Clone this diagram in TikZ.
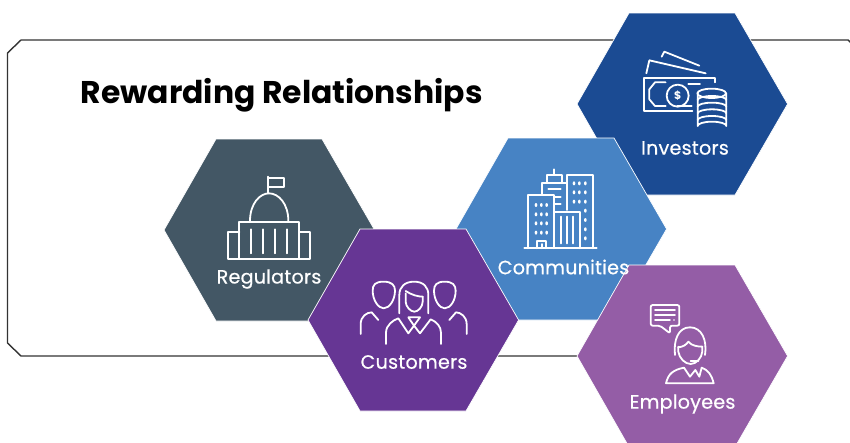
\documentclass[tikz,border=0pt]{standalone}
\usepackage{fontspec}
\setmainfont{Poppins}
\definecolor{cInv}{HTML}{1B4B93}
\definecolor{cReg}{HTML}{435765}
\definecolor{cCus}{HTML}{663694}
\definecolor{cCom}{HTML}{4783C4}
\definecolor{cEmp}{HTML}{945DA6}
\definecolor{cFrame}{HTML}{333333}
\tikzset{
  hexa/.style={draw=white,line width=0.7pt},
  icon/.style={draw=white,line width=1.8pt,line cap=round,line join=round},
  dotw/.style={fill=white,draw=none},
  lab/.style={text=white,font=\fontsize{19.2}{21}\selectfont\addfontfeatures{LetterSpace=1,FakeBold=0.5},inner sep=0pt,anchor=center}
}
\newcommand{\hexat}[3]{% left x, top y, colour: 210 wide, 182 high
  \begin{scope}[shift={(#1,#2)}]
    \path[hexa,fill=#3] (0,91) -- (52,0) -- (158,0) -- (210.6,91) -- (158,182) -- (52,182) -- cycle;
  \end{scope}}
\begin{document}
\begin{tikzpicture}[x=1pt,y=-1pt]
\useasboundingbox (0,0) rectangle (850,442);
% frame
\draw[cFrame,line width=1.4pt] (852,44) -- (848,40) -- (21,40) -- (7.5,53) -- (7.5,343) -- (21,356) -- (590,356);
% hexagons
\hexat{577}{13}{cInv}
\hexat{164}{139}{cReg}
\hexat{456}{138}{cCom}
\hexat{308}{229}{cCus}
\hexat{577}{265}{cEmp}
% title
\node[anchor=west,inner sep=0pt,font=\fontsize{31.4}{34}\selectfont\bfseries] (title) at (80.5,95) {Rewarding Relationships};
% labels
\node[lab] (investors) at (685,148) {Investors};
\node[lab] (regulators) at (269,279) {Regulators};
\node[lab] (customers) at (414,362) {Customers};
\node[lab] (communities) at (563.5,267) {Communities};
\node[lab] (employees) at (682.5,404) {Employees};
% investors icon
\begin{scope}[shift={(600,0)},x=0.3333pt,y=-0.3333pt,icon]
  \draw (185,170) -- (193,155) -- (298,197);
  \draw (139,220) -- (148,181) -- (317,220);
  \draw (344,247) -- (344,233) -- (131,233) -- (131,334) -- (277,334);
  \draw (197,247) -- (165,247) -- (148,268) -- (148,298) -- (165,318) -- (197,318);
  \draw (265,252) -- (300,252);
  \draw (232,318) -- (275,318);
  \draw (233,287) circle[radius=33];
  \draw (293,280) -- (293,378) arc[start angle=180,end angle=360,x radius=43,y radius=13] -- (379,280);
  \draw (335,280) ellipse[x radius=43,y radius=14];
  \foreach \yy in {300,320,340,360} \draw (293,\yy) arc[start angle=180,end angle=360,x radius=43,y radius=12];
\end{scope}
\node[inner sep=0pt,text=white,font=\fontsize{11}{11}\selectfont\bfseries] (dollar) at (677.7,95.7) {\$};
% regulators icon
\begin{scope}[shift={(200,160)},x=0.3333pt,y=-0.3333pt,icon]
  \draw (205,100) -- (205,50);
  \draw (205,55) -- (252,55) -- (252,82) -- (205,82);
  \draw (150,183) .. controls (150,130) and (180,100) .. (207,100) .. controls (235,100) and (265,130) .. (265,183);
  \draw (118,185) rectangle (298,297);
  \draw (118,215) -- (83,215) -- (83,297) -- (118,297);
  \draw (298,215) -- (330,215) -- (330,297) -- (298,297);
  \foreach \xx in {152,190,226,262} \draw (\xx,208) -- (\xx,280);
\end{scope}
% customers icon
\begin{scope}[shift={(340,260)},x=0.3333pt,y=-0.3333pt,icon]
  \draw (131,65) .. controls (105,65) and (98,75) .. (98,92) .. controls (98,120) and (115,145) .. (131,145) .. controls (148,145) and (165,120) .. (165,92) .. controls (165,75) and (155,65) .. (131,65) -- cycle;
  \draw (314,65) .. controls (290,65) and (282,75) .. (282,92) .. controls (282,120) and (298,145) .. (314,145) .. controls (332,145) and (347,120) .. (347,92) .. controls (347,75) and (338,65) .. (314,65) -- cycle;
  \draw (178,160) -- (178,105) .. controls (178,80) and (195,65) .. (222,65) .. controls (250,65) and (265,80) .. (265,105) -- (265,160);
  \draw (197,93) .. controls (215,105) and (235,110) .. (248,110);
  \draw (197,100) -- (197,125) .. controls (197,140) and (212,155) .. (223,155) .. controls (235,155) and (248,140) .. (248,125) -- (248,110);
  \draw (62,222) -- (62,192) .. controls (62,170) and (80,157) .. (95,157) -- (115,180);
  \draw (380,222) -- (380,192) .. controls (380,170) and (362,157) .. (348,157) -- (328,180);
  \draw (138,252) -- (138,218) .. controls (138,195) and (160,180) .. (175,175) -- (205,220) -- (222,197) -- (240,220) -- (272,178) .. controls (290,185) and (303,200) .. (303,218) -- (303,252);
  \draw (205,172) -- (222,197) -- (240,172) -- cycle;
\end{scope}
% communities icon
\begin{scope}[shift={(500,160)},x=0.3333pt,y=-0.3333pt,icon]
  \draw (162,28) -- (162,45);
  \draw (140,65) -- (140,45) -- (185,45) -- (185,65);
  \draw (125,103) -- (125,68) -- (200,68);
  \draw (145,88) -- (182,88);
  \draw (165,110) -- (182,110);
  \draw (165,133) -- (182,133);
  \draw (200,150) -- (200,45) -- (278,45) -- (278,265);
  \draw (85,265) -- (85,105) -- (162,105) -- (162,265);
  \draw (162,155) -- (240,155) -- (240,265);
  \draw[line width=2.2pt] (183,170) -- (183,250);
  \draw[line width=2.2pt] (200,170) -- (200,250);
  \draw[line width=2.2pt] (218,170) -- (218,250);
  \draw (73,265) -- (290,265);
  \draw (112,265) -- (112,243) -- (137,243) -- (137,265);
  \draw (125,252) -- (125,265);
  \foreach \yy in {135,163,190,218} \foreach \xx in {108,124,140} \fill[dotw] (\xx,\yy) ellipse[x radius=4,y radius=6];
  \foreach \yy in {70,97,125} \foreach \xx in {222,238,256} \fill[dotw] (\xx,\yy) ellipse[x radius=4,y radius=6];
  \foreach \yy in {152,180,208,235} \fill[dotw] (256,\yy) ellipse[x radius=4,y radius=6];
\end{scope}
% employees icon
\begin{scope}[shift={(620,290)},x=0.3333pt,y=-0.3333pt,icon]
  \draw[rounded corners=2pt] (120,107) -- (92,107) -- (92,45) -- (178,45) -- (178,107) -- (150,107) -- (150,130) -- cycle;
  \draw (105,60) -- (165,60);
  \draw (105,75) -- (165,75);
  \draw (105,90) -- (150,90);
  \fill[dotw] (162,90) circle[radius=2.5];
  \draw (165,195) .. controls (160,150) and (175,112) .. (210,112) .. controls (245,112) and (262,150) .. (255,195);
  \draw (175,170) -- (175,185) .. controls (178,205) and (195,222) .. (212,222) .. controls (228,222) and (245,205) .. (247,185) -- (247,170);
  \draw (175,172) .. controls (190,170) and (198,165) .. (205,155) .. controls (215,168) and (235,170) .. (247,170);
  \draw (212,213) -- (235,213);
  \draw (138,280) .. controls (145,250) and (160,240) .. (192,233) -- (210,260) -- (226,240) -- (238,260) -- (245,233) .. controls (265,240) and (275,255) .. (281,280) -- cycle;
\end{scope}
\end{tikzpicture}
\end{document}
